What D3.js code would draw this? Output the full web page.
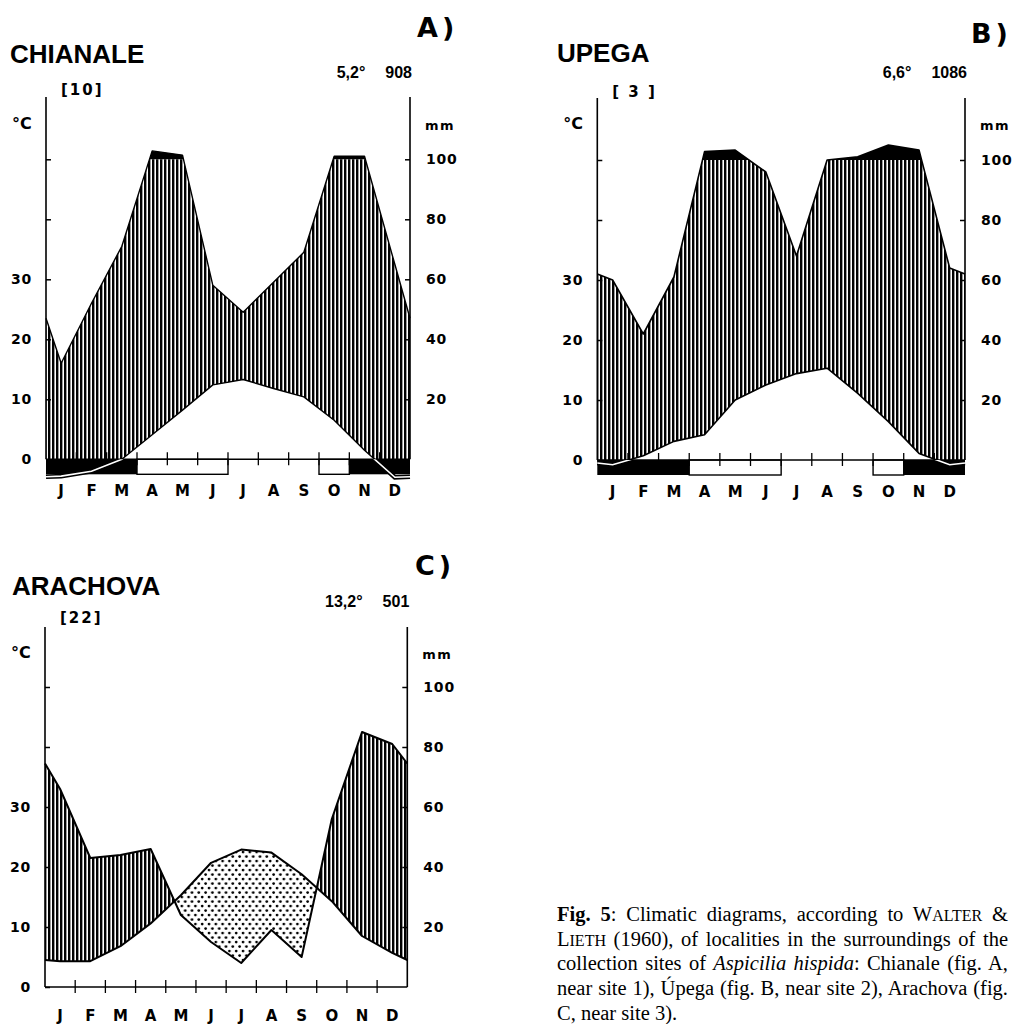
<!DOCTYPE html>
<html>
<head>
<meta charset="utf-8">
<script src="https://cdn.jsdelivr.net/npm/d3@7"></script>
<style>
  body { margin: 0; background: #fff; }
  svg { display: block; }
</style>
</head>
<body>
<svg id="chart" width="1013" height="1024"></svg>
<script>
const months = ["J", "F", "M", "A", "M", "J", "J", "A", "S", "O", "N", "D"];

// A) Chianale
const chianaleTemp = [-2.8, -2.0, 0.0, 4.1, 8.2, 12.4, 13.3, 11.8, 10.4, 6.5, 1.5, -3.0];
const chianalePrec = [32, 52, 71, 128, 114, 58, 49, 59, 69, 110, 110, 65];
const chianaleTempEdge = -2.9;   // value at the Dec/Jan edge of the diagram
const chianalePrecEdge = 47;
const chianaleFrost = [2, 2, 2, 1, 1, 1, 0, 0, 0, 1, 2, 2]; // 2 = sure frost, 1 = possible frost
const chianaleMean = "5,2°";
const chianaleTotal = "908";
const chianaleYears = "[10]";

// B) Upega
const upegaTemp = [-0.8, 0.7, 3.1, 4.2, 10.0, 12.5, 14.4, 15.3, 11.1, 6.4, 1.1, -0.8];
const upegaPrec = [60, 42, 61, 128, 133, 96, 68, 100, 111, 150, 133, 64];
const upegaTempEdge = -0.5;
const upegaPrecEdge = 62;
const upegaFrost = [2, 2, 2, 1, 1, 1, 0, 0, 0, 1, 2, 2];
const upegaMean = "6,6°";
const upegaTotal = "1086";
const upegaYears = "[ 3 ]";

// C) Arachova
const arachovaTemp = [4.3, 4.3, 6.8, 10.6, 15.3, 20.7, 22.9, 22.4, 18.8, 14.3, 8.5, 5.7];
const arachovaPrec = [66, 43, 44, 46, 24, 15, 8, 19, 10, 56, 85, 81];
const arachovaTempEdge = 4.5;
const arachovaPrecEdge = 74.5;
const arachovaFrost = [0, 0, 0, 0, 0, 0, 0, 0, 0, 0, 0, 0];
const arachovaMean = "13,2°";
const arachovaTotal = "501";
const arachovaYears = "[22]";

const leftTicks = [0, 10, 20, 30, 40, 50];
const rightTicks = [10, 20, 30, 40, 50];

const panels = [
    { name: "CHIANALE", letter: "A", temp: chianaleTemp, prec: chianalePrec, tempEdge: chianaleTempEdge,
      precEdge: chianalePrecEdge, frost: chianaleFrost, mean: chianaleMean, total: chianaleTotal, years: chianaleYears,
      x0: 46, x1: 410, base: 459.3, top: 97, titleX: 10, titleY: 63, letterX: 417, letterY: 37, headY: 78, yearsY: 95,
      unitY: 129, monthY: 496, lw: 1.4 },
    { name: "UPEGA", letter: "B", temp: upegaTemp, prec: upegaPrec, tempEdge: upegaTempEdge,
      precEdge: upegaPrecEdge, frost: upegaFrost, mean: upegaMean, total: upegaTotal, years: upegaYears,
      x0: 597.3, x1: 965, base: 460, top: 98, titleX: 557, titleY: 62, letterX: 971, letterY: 43, headY: 78, yearsY: 97,
      unitY: 129, monthY: 497, lw: 1.6 },
    { name: "ARACHOVA", letter: "C", temp: arachovaTemp, prec: arachovaPrec, tempEdge: arachovaTempEdge,
      precEdge: arachovaPrecEdge, frost: arachovaFrost, mean: arachovaMean, total: arachovaTotal, years: arachovaYears,
      x0: 45, x1: 407.3, base: 987, top: 627, titleX: 12, titleY: 595, letterX: 415, letterY: 575, headY: 606.5, yearsY: 623,
      unitY: 657.5, monthY: 1021, lw: 2 }
];

const svg = d3.select("#chart");
const defs = svg.append("defs");

let hatch = defs.append("pattern")
    .attr("id", "hatch")
    .attr("patternUnits", "userSpaceOnUse")
    .attr("width", 4)
    .attr("height", 10);
hatch.append("rect").attr("width", 2.4).attr("height", 10).attr("fill", "#000");

let dots = defs.append("pattern")
    .attr("id", "dots")
    .attr("patternUnits", "userSpaceOnUse")
    .attr("width", 6.8)
    .attr("height", 9);
dots.append("circle").attr("cx", 1.6).attr("cy", 1.6).attr("r", 1.35);
dots.append("circle").attr("cx", 5).attr("cy", 6.1).attr("r", 1.35);

const numFont = "'DejaVu Sans', sans-serif";
const headFont = "'Liberation Sans', Arial, sans-serif";

function runs(frost, code) {
    let out = [], s = null;
    frost.forEach((f, i) => {
        if (f === code) { if (s === null) s = i; }
        else if (s !== null) { out.push([s, i]); s = null; }
    });
    if (s !== null) out.push([s, frost.length]);
    return out;
}

function drawPanel(p, idx) {
    const id = "pn" + idx;
    let x = d3.scaleLinear().domain([0, 12]).range([p.x0, p.x1]);
    let yT = d3.scaleLinear().domain([0, 50]).range([p.base, p.base - 300]);
    // 10 °C = 20 mm up to 100 mm, above 100 mm the scale is reduced to 1/10
    let yP = d3.scaleLinear().domain([0, 100, 300]).range([yT(0), yT(50), yT(60)]);

    const xs = [0].concat(d3.range(12).map(i => i + 0.5), [12]);
    const temps = [p.tempEdge].concat(p.temp, [p.tempEdge]);
    const precs = [p.precEdge].concat(p.prec, [p.precEdge]);
    const tPts = xs.map((m, i) => [x(m), yT(temps[i])]);
    const pPts = xs.map((m, i) => [x(m), yP(precs[i])]);
    const line = d3.line();

    const above = pts => line(pts) + `L${p.x1},${p.top - 60}L${p.x0},${p.top - 60}Z`;
    const below = pts => line(pts) + `L${p.x1},${p.base + 60}L${p.x0},${p.base + 60}Z`;

    defs.append("clipPath").attr("id", id + "aboveT").append("path").attr("d", above(tPts));
    defs.append("clipPath").attr("id", id + "aboveP").append("path").attr("d", above(pPts));
    defs.append("clipPath").attr("id", id + "band").append("rect")
        .attr("x", p.x0).attr("y", yT(50)).attr("width", p.x1 - p.x0).attr("height", p.base - yT(50));
    defs.append("clipPath").attr("id", id + "over").append("rect")
        .attr("x", p.x0).attr("y", p.top - 60).attr("width", p.x1 - p.x0).attr("height", yT(50) - p.top + 60);
    defs.append("clipPath").attr("id", id + "under").append("rect")
        .attr("x", p.x0 - 5).attr("y", p.base).attr("width", p.x1 - p.x0 + 10).attr("height", 60);

    let g = svg.append("g");

    // humid season: vertical hatching
    g.append("g").attr("clip-path", `url(#${id}aboveT)`)
        .append("g").attr("clip-path", `url(#${id}band)`)
        .append("path").attr("d", below(pPts)).attr("fill", "url(#hatch)");

    // arid season: dots
    g.append("g").attr("clip-path", `url(#${id}aboveP)`)
        .append("g").attr("clip-path", `url(#${id}band)`)
        .append("path").attr("d", below(tPts)).attr("fill", "url(#dots)");

    // precipitation above 100 mm: black
    g.append("g").attr("clip-path", `url(#${id}over)`)
        .append("path").attr("d", below(pPts)).attr("fill", "#000");

    g.append("path").attr("d", line(pPts))
        .attr("fill", "none").attr("stroke", "#000").attr("stroke-width", p.lw).attr("stroke-linejoin", "round");
    g.append("path").attr("d", line(tPts))
        .attr("fill", "none").attr("stroke", "#000").attr("stroke-width", p.lw).attr("stroke-linejoin", "round");

    // frost strip under the baseline
    runs(p.frost, 2).forEach(r => {
        g.append("rect").attr("x", x(r[0])).attr("y", p.base).attr("width", x(r[1]) - x(r[0])).attr("height", 15)
            .attr("fill", "#000");
    });
    runs(p.frost, 1).forEach(r => {
        g.append("rect").attr("x", x(r[0])).attr("y", p.base).attr("width", x(r[1]) - x(r[0])).attr("height", 15)
            .attr("fill", "#fff").attr("stroke", "#000").attr("stroke-width", 1.4);
    });

    g.append("line").attr("x1", p.x0).attr("x2", p.x1).attr("y1", p.base).attr("y2", p.base)
        .attr("stroke", "#000").attr("stroke-width", 1.6);
    g.selectAll(".mtick").data(d3.range(1, 12)).enter().append("line")
        .attr("x1", d => x(d)).attr("x2", d => x(d))
        .attr("y1", p.base - 7).attr("y2", p.base + 6)
        .attr("stroke", "#000").attr("stroke-width", 1.3);

    // temperature below zero: double line over the strip
    let under = g.append("g").attr("clip-path", `url(#${id}under)`);
    under.append("path").attr("d", line(tPts)).attr("fill", "none").attr("stroke", "#000").attr("stroke-width", 4.6);
    under.append("path").attr("d", line(tPts)).attr("fill", "none").attr("stroke", "#fff").attr("stroke-width", 1.6);

    // axes
    let leftAxis = g.append("g").attr("transform", `translate(${p.x0},0)`)
        .call(d3.axisLeft(yT).tickValues(leftTicks).tickFormat(d => d <= 30 ? d : "")
            .tickSizeInner(-5).tickSizeOuter(0).tickPadding(14));
    let rightAxis = g.append("g").attr("transform", `translate(${p.x1},0)`)
        .call(d3.axisRight(yT).tickValues(rightTicks).tickFormat(d => d * 2)
            .tickSizeInner(-5).tickSizeOuter(0).tickPadding(16));
    [leftAxis, rightAxis].forEach(a => {
        a.select(".domain").remove();
        a.selectAll(".tick line").attr("stroke-width", 1.5);
        a.attr("font-family", numFont).attr("font-size", 14).attr("font-weight", "bold");
        a.selectAll(".tick text").attr("letter-spacing", 0.8);
    });
    [p.x0, p.x1].forEach(ax => {
        g.append("line").attr("x1", ax).attr("x2", ax).attr("y1", p.top).attr("y2", p.base)
            .attr("stroke", "#000").attr("stroke-width", 1.6);
    });

    g.selectAll(".month").data(months).enter().append("text")
        .attr("x", (d, i) => x(i + 0.5)).attr("y", p.monthY)
        .attr("text-anchor", "middle")
        .attr("font-family", numFont).attr("font-weight", "bold").attr("font-size", 15)
        .text(d => d);

    // headings
    g.append("text").attr("x", p.titleX).attr("y", p.titleY)
        .attr("font-family", headFont).attr("font-weight", "bold").attr("font-size", 26)
        .text(p.name);
    let letter = g.append("text").attr("x", p.letterX).attr("y", p.letterY)
        .attr("font-family", numFont).attr("font-weight", "bold").attr("font-size", 27);
    letter.append("tspan").text(p.letter);
    letter.append("tspan").attr("dx", 4).text(")");
    let total = g.append("text").attr("x", p.x1 + 2).attr("y", p.headY).attr("text-anchor", "end")
        .attr("font-family", headFont).attr("font-weight", "bold").attr("font-size", 16)
        .text(p.total);
    let tw = total.node().getComputedTextLength();
    g.append("text").attr("x", p.x1 + 2 - tw - 20).attr("y", p.headY).attr("text-anchor", "end")
        .attr("font-family", headFont).attr("font-weight", "bold").attr("font-size", 16)
        .text(p.mean);
    g.append("text").attr("x", p.x0 + 15).attr("y", p.yearsY)
        .attr("font-family", numFont).attr("font-weight", "bold").attr("font-size", 15)
        .attr("letter-spacing", 2)
        .text(p.years);
    g.append("text").attr("x", p.x0 - 34).attr("y", p.unitY)
        .attr("font-family", numFont).attr("font-weight", "bold").attr("font-size", 16)
        .text("°C");
    g.append("text").attr("x", p.x1 + 15).attr("y", p.unitY + 1)
        .attr("font-family", numFont).attr("font-weight", "bold").attr("font-size", 13)
        .attr("letter-spacing", 1.5)
        .text("mm");
}

panels.forEach(drawPanel);

// caption, justified line by line
const captionLines = [
    [{ t: "Fig. 5", b: true }, { t: ": Climatic diagrams, according to W" }, { t: "ALTER", sc: true }, { t: " &" }],
    [{ t: "L" }, { t: "IETH", sc: true }, { t: " (1960), of localities in the surroundings of the" }],
    [{ t: "collection sites of " }, { t: "Aspicilia hispida", it: true }, { t: ": Chianale (fig. A," }],
    [{ t: "near site 1), Úpega (fig. B, near site 2), Arachova (fig." }],
    [{ t: "C, near site 3)." }]
];
const capX = 557, capRight = 1008, capY = 921, capStep = 24.7;
captionLines.forEach((parts, li) => {
    let t = svg.append("text").attr("x", capX).attr("y", capY + li * capStep)
        .attr("font-family", "'Liberation Serif', 'Times New Roman', serif").attr("font-size", 20.5);
    parts.forEach(part => {
        let s = t.append("tspan").text(part.t);
        if (part.b) s.attr("font-weight", "bold");
        if (part.it) s.attr("font-style", "italic");
        if (part.sc) s.attr("font-size", 16);
    });
    if (li < captionLines.length - 1) {
        let natural = t.node().getComputedTextLength();
        let spaces = parts.map(d => d.t).join("").split(" ").length - 1;
        t.attr("word-spacing", (capRight - capX - natural) / spaces);
    }
});
</script>
</body>
</html>
